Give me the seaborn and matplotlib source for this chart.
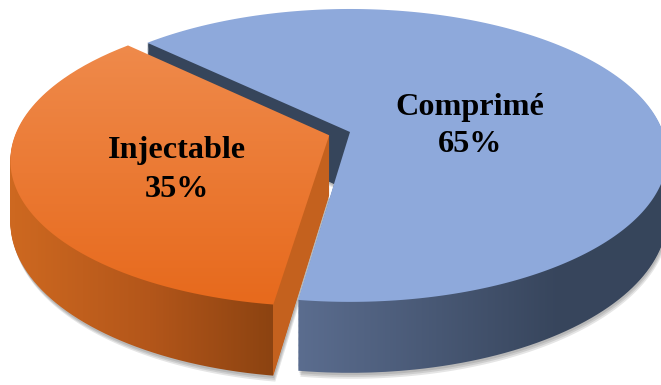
import numpy as np
import matplotlib
matplotlib.use("Agg")
import matplotlib.pyplot as plt
import seaborn as sns
from matplotlib.transforms import Transform
from matplotlib.path import Path

# ---- data ----
categories = ["Comprimé", "Injectable"]
shares = [65, 35]
explode = [0.0, 0.07]

sns.set_theme(style="white")
plt.rcParams["font.family"] = ["Liberation Serif", "DejaVu Serif"]

# ---- view / style ----
W, H = 661, 385
CX, CY = 350.0, 132.0        # screen position of pie centre
SX, SY = 313.0, 142.7        # screen scale of the disc
K = 0.16                     # perspective strength
DEPTH = 59.6                 # thickness of the disc
NLAYERS = 60
START = 262

label_xy = [(470, 115, 152), (177, 158, 197)]


class Perspective(Transform):
    input_dims = 2
    output_dims = 2
    is_separable = False
    has_inverse = False

    def __init__(self, z=0.0, dx=0.0):
        super().__init__()
        self.z = z
        self.dx = dx

    def transform_non_affine(self, values):
        arr = np.asarray(values, float)
        v = arr.reshape(-1, 2)
        w = 1.0 + K * v[:, 1]
        x = CX + self.dx + SX * v[:, 0] / w
        y = CY - (SY * v[:, 1] + self.z) / w
        out = np.column_stack([x, y])
        return out.reshape(arr.shape)

    def transform_path_non_affine(self, path):
        pts = []
        for seg, code in path.iter_bezier():
            n = 2 if seg.degree <= 1 else 40
            pts.append(seg(np.linspace(0, 1, n)))
        verts = np.concatenate(pts)
        return Path(self.transform_non_affine(verts))


def hex2rgb(h):
    h = h.lstrip("#")
    return np.array([int(h[i:i + 2], 16) for i in (0, 2, 4)], float)


def mix(c0, c1, t):
    t = np.asarray(t)[..., None]
    return c0 * (1 - t) + c1 * t


yy, xx = np.mgrid[0:H, 0:W] + 0.5

# blue side wall: horizontal gradient, dark radial wall on top
t = np.clip((xx - 298) / (560 - 298), 0, 1)
g = mix(hex2rgb("#5B6D8F"), hex2rgb("#37455C"), t)
s = np.clip((yy - 215) / 45, 0, 1)
blue_side = mix(hex2rgb("#36455B"), g, s).astype(np.uint8)

# orange side wall
t1 = np.clip((xx - 15) / (150 - 15), 0, 1)
t2 = np.clip((xx - 150) / (272 - 150), 0, 1)
g = mix(mix(hex2rgb("#CD6820"), hex2rgb("#B3561A"), t1), hex2rgb("#8C4311"), t2)
s = np.clip(xx - 272.5, 0, 1)
orange_side = mix(g, hex2rgb("#C4611E"), s).astype(np.uint8)

# orange top face
t = np.clip((yy - 45) / (300 - 45), 0, 1)
orange_top = mix(hex2rgb("#EF8A4B"), hex2rgb("#E76A1D"), t).astype(np.uint8)

fig = plt.figure(figsize=(W / 100, H / 100), dpi=100)
ax = fig.add_axes([0, 0, 1, 1])


def pie_layer(z, dx=0.0):
    wedges, _ = ax.pie(shares, explode=explode, startangle=START,
                       counterclock=True, radius=1.0)
    for wdg in wedges:
        wdg.set_transform(Perspective(z, dx) + ax.transData)
    return wedges


def clipped_image(img, wedge, zorder):
    wedge.set_facecolor("none")
    wedge.set_edgecolor("none")
    im = ax.imshow(img, extent=(0, W, H, 0), origin="upper",
                   interpolation="nearest", aspect="auto", zorder=zorder)
    im.set_clip_path(wedge)


# soft shadow
for j, off in enumerate([5, 3.5, 2]):
    for wdg in pie_layer(-DEPTH - off, dx=off * 0.4):
        wdg.set_facecolor((0, 0, 0, 0.10))
        wdg.set_edgecolor("none")
        wdg.set_zorder(0.5)

# side walls
for i in range(NLAYERS):
    z = -DEPTH + DEPTH * i / NLAYERS
    wb, wo = pie_layer(z)
    clipped_image(blue_side, wb, 1 + i / 1000)
    wb.set_zorder(1 + i / 1000)
    clipped_image(orange_side, wo, 2 + i / 1000)
    wo.set_zorder(2 + i / 1000)

# top faces
wb, wo = pie_layer(0.0)
wb.set_facecolor("#8EA9DB")
wb.set_edgecolor("none")
wb.set_zorder(1.9)
clipped_image(orange_top, wo, 2.9)
wo.set_zorder(2.9)

# labels
for cat, val, (lx, ly1, ly2) in zip(categories, shares, label_xy):
    ax.text(lx, ly1, cat, ha="center", va="baseline", fontsize=23.2,
            fontweight="bold", color="black", zorder=5)
    ax.text(lx, ly2, f"{val}%", ha="center", va="baseline", fontsize=23.2,
            fontweight="bold", color="black", zorder=5)

ax.set_aspect("auto")
ax.set_xlim(0, W)
ax.set_ylim(H, 0)
ax.axis("off")
fig.savefig("out.png", dpi=100, facecolor="white")
